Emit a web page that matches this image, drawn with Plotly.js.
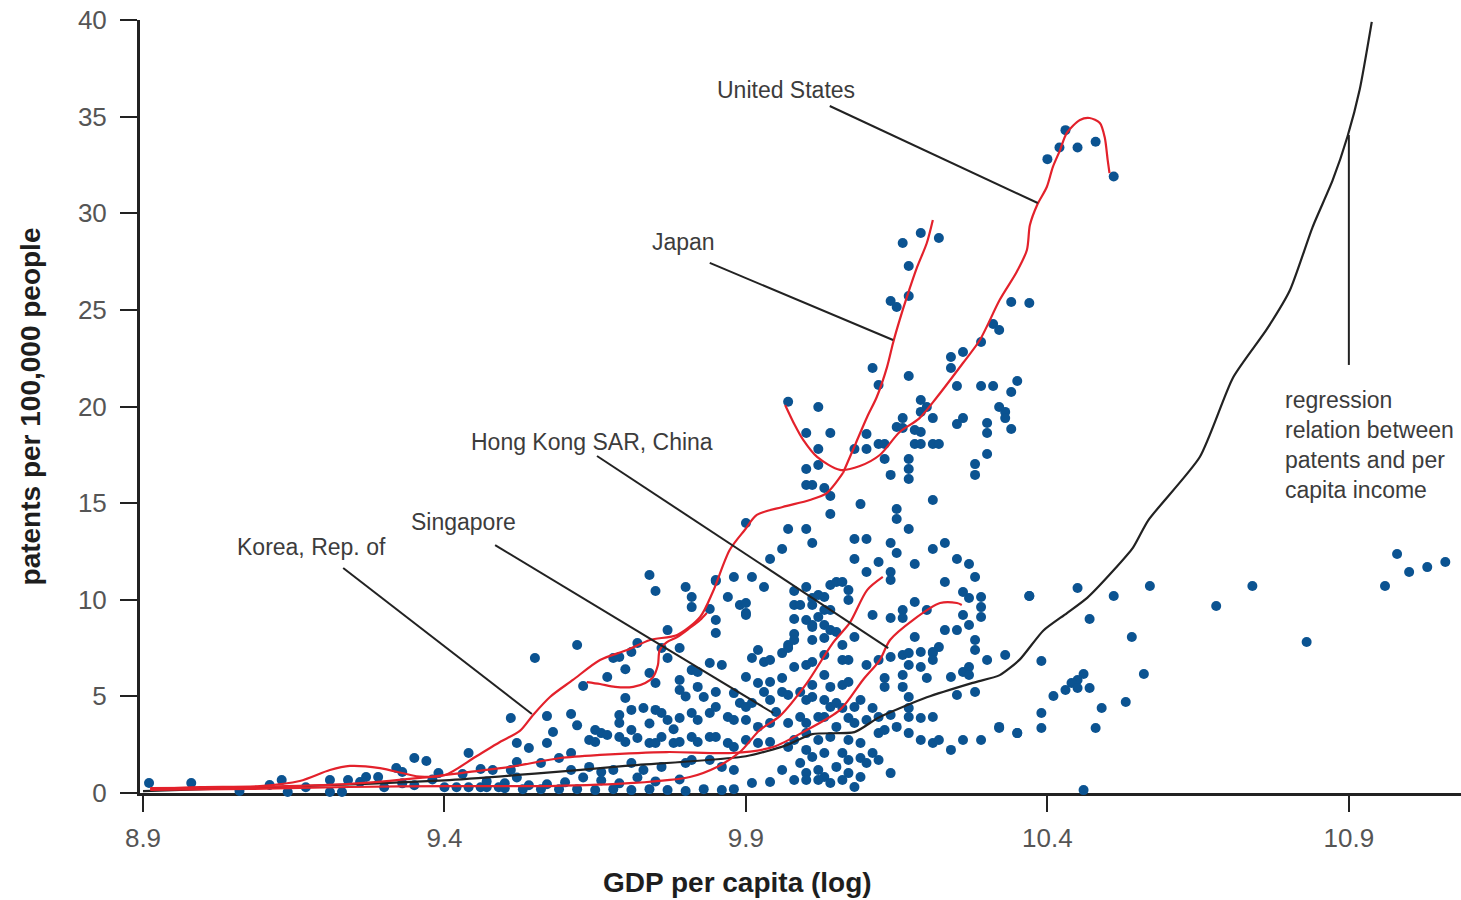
<!DOCTYPE html>
<html><head><meta charset="utf-8">
<script src="https://cdn.plot.ly/plotly-3.0.1.min.js"></script>
<style>html,body{margin:0;padding:0;background:#fff}#chart{width:1461px;height:900px}</style>
</head><body><div id="chart"></div>
<script>
// Scatter: economies, GDP per capita (log) vs patents per 100,000 people
const gdpLog = [
8.91,8.94,8.98,9.00,9.03,9.06,9.11,9.13,9.14,9.17,
9.21,9.24,9.26,9.27,9.29,9.32,9.21,9.23,9.35,9.37,
9.33,9.39,9.43,9.44,9.46,9.48,9.30,9.35,9.40,9.42,
9.44,9.46,9.47,9.49,9.38,9.33,9.47,9.50,9.52,9.54,
9.51,9.56,9.61,9.64,9.66,9.68,9.71,9.73,9.76,9.80,
9.81,9.84,9.86,9.88,9.51,9.57,9.61,9.58,9.57,9.52,
9.54,9.61,9.59,9.65,9.66,9.67,9.64,9.65,9.69,9.70,
9.72,9.74,9.75,9.76,9.78,9.79,9.81,9.82,9.84,9.85,
9.87,9.88,9.70,9.71,9.73,9.75,9.69,9.69,9.71,9.76,
9.77,9.79,9.81,9.82,9.84,9.85,9.87,9.88,9.82,9.83,
9.85,9.88,9.89,9.63,9.66,9.69,9.72,9.50,9.53,9.56,
9.59,9.62,9.65,9.68,9.71,9.74,9.77,9.80,9.83,9.86,
9.88,9.60,9.75,9.79,9.57,9.52,9.62,9.78,9.74,9.80,
9.74,9.75,9.80,9.81,9.81,9.85,9.88,9.87,9.89,9.84,
9.85,9.85,9.62,9.55,9.63,9.67,9.68,9.69,9.71,9.72,
9.77,9.76,9.77,9.79,9.74,9.75,9.79,9.79,9.81,9.82,
9.84,9.86,9.90,9.85,9.90,9.91,9.93,9.90,9.90,9.70,
9.97,10.02,10.19,10.20,10.16,10.15,10.16,10.18,10.19,10.21,
10.25,10.26,10.32,10.33,10.33,10.34,10.30,10.30,10.00,10.04,
10.10,10.08,10.10,10.12,10.13,10.18,10.19,10.21,10.22,10.13,
10.17,10.17,10.17,10.14,10.30,10.28,10.28,10.02,10.02,10.00,
10.00,10.01,10.03,10.04,10.04,10.09,10.21,10.15,10.15,10.17,
9.97,10.00,10.01,10.08,10.10,10.14,10.15,10.23,10.21,9.96,
9.94,10.08,10.12,10.18,10.25,10.27,10.10,10.14,10.14,10.23,
10.28,10.37,9.98,9.98,9.98,9.98,9.99,10.00,10.01,10.01,
10.03,10.04,10.05,10.06,10.07,10.07,10.00,10.01,10.01,10.03,
10.04,10.02,10.03,10.04,10.05,9.97,10.01,10.03,10.06,10.08,
10.11,10.16,10.16,10.18,10.18,10.20,10.22,10.23,10.25,10.26,
10.27,10.27,10.28,10.29,10.29,10.29,10.14,10.21,10.28,10.30,
10.33,9.98,10.02,10.26,9.92,9.91,9.93,9.94,9.96,9.97,
9.90,9.92,9.94,9.93,9.96,9.98,10.00,10.01,10.03,10.06,
10.07,10.10,10.12,10.14,10.16,10.17,10.19,10.21,10.17,10.19,
10.21,10.16,10.13,10.20,10.24,10.26,10.27,10.27,10.28,10.25,
10.17,10.17,10.16,10.13,10.01,10.03,10.04,10.06,10.07,9.96,
9.97,9.99,10.00,10.01,9.90,9.91,9.94,9.95,10.03,10.04,
10.05,10.06,10.08,10.09,10.11,10.12,10.14,10.17,10.19,10.21,
9.90,9.92,9.94,9.97,9.99,10.00,10.02,10.03,10.05,10.07,
10.08,10.10,10.12,10.13,10.15,10.17,10.19,10.21,10.22,10.24,
10.26,10.29,10.32,10.35,9.90,9.92,9.94,9.97,9.98,10.00,
10.02,10.04,10.07,10.09,10.00,10.01,10.03,10.06,10.07,10.09,
10.11,9.99,10.00,10.02,10.03,10.05,10.07,10.10,10.12,9.98,
10.00,10.02,10.04,10.06,10.08,10.09,10.14,9.91,9.94,9.96,
9.94,9.99,10.01,10.03,10.06,10.08,10.09,10.16,10.28,10.30,
10.16,10.19,10.22,10.17,10.14,10.15,10.17,10.11,10.12,10.17,
10.19,10.24,10.24,10.26,10.29,10.31,10.32,10.34,10.37,10.35,
10.34,10.25,10.29,10.31,10.43,10.42,10.40,10.45,10.48,10.51,
10.37,10.45,10.51,10.57,10.68,10.74,10.83,10.96,10.98,11.00,
11.03,11.06,10.47,10.54,10.39,10.56,10.46,10.45,10.44,10.43,
10.45,10.47,10.41,10.49,10.53,10.39,10.39,10.48,10.35,10.32,
10.46
];
const patents = [
0.52,-0.10,0.52,-0.30,-0.15,0.10,0.41,0.67,0.05,0.30,
0.67,0.67,0.57,0.83,0.83,1.29,0.05,0.05,1.81,1.66,
1.09,1.03,0.98,2.07,1.24,1.19,0.30,0.40,0.30,0.30,
0.30,0.30,0.30,0.30,0.70,0.50,0.60,0.50,0.80,0.40,
1.19,1.55,1.19,1.35,1.09,1.19,1.55,1.19,1.35,1.55,
1.71,1.71,1.35,1.19,3.88,3.98,4.09,3.16,2.59,2.59,
2.33,2.07,1.81,3.26,3.10,3.00,2.74,2.64,2.90,2.64,
2.85,2.59,2.59,2.90,2.59,2.64,2.90,2.64,2.90,2.90,
2.59,2.38,4.92,4.30,4.40,4.30,4.04,3.62,3.26,4.14,
3.78,3.88,4.14,3.78,4.14,4.45,3.93,3.78,5.49,4.97,
5.23,5.17,4.66,0.80,0.65,0.50,0.80,0.25,0.20,0.20,
0.20,0.20,0.15,0.20,0.15,0.20,0.15,0.10,0.20,0.15,
0.20,0.55,0.60,0.70,0.45,1.60,3.50,3.30,3.60,5.00,
11.28,10.45,10.66,10.14,9.62,10.97,11.18,10.14,9.73,9.52,
8.95,8.28,7.66,6.99,5.54,6.00,6.99,7.04,7.30,7.76,
8.43,7.50,6.99,7.50,6.21,5.69,5.85,5.33,6.36,6.26,
6.73,6.62,9.21,11.02,13.97,11.18,10.66,9.83,9.31,6.40,
20.25,19.97,19.72,19.97,19.40,18.94,18.89,18.78,18.68,19.40,
19.09,19.40,19.97,19.72,19.40,18.84,19.15,18.63,18.63,18.63,
18.58,17.80,17.80,18.06,18.06,18.06,18.06,18.06,18.06,17.28,
17.28,16.77,16.25,16.46,17.54,17.02,16.46,17.80,16.97,16.77,
15.94,15.94,15.78,15.37,14.44,14.95,15.16,14.70,14.18,13.66,
13.66,13.66,12.94,13.14,13.14,12.94,12.42,12.94,12.63,12.63,
12.11,12.11,11.95,11.85,12.11,11.85,11.44,11.44,11.02,10.92,
11.18,10.19,10.45,9.73,9.00,8.23,9.73,10.66,9.73,10.09,
10.14,10.76,10.92,10.92,10.50,9.99,8.95,8.69,8.59,9.47,
9.47,9.11,8.69,8.43,8.33,7.66,7.92,8.02,7.66,8.07,
9.21,9.47,9.06,9.88,8.07,9.47,7.55,8.43,8.43,9.21,
10.09,8.69,7.92,10.14,9.62,9.11,9.06,7.30,7.40,6.88,
7.14,7.92,10.25,10.40,7.40,6.99,6.78,6.88,7.24,7.50,
6.00,5.69,5.74,5.23,5.95,6.52,6.62,6.78,7.14,6.88,
6.88,6.62,6.88,7.04,7.14,7.24,7.30,7.24,6.62,6.52,
6.88,6.11,5.95,5.95,6.00,6.26,6.52,6.11,5.23,5.07,
4.97,4.40,5.49,5.49,5.59,6.11,5.49,5.59,5.74,5.23,
5.07,5.23,4.81,4.97,4.45,4.66,4.81,4.19,4.81,4.45,
4.66,4.40,4.45,4.81,4.40,3.93,4.04,3.93,3.88,3.93,
3.78,3.42,3.62,3.62,3.93,3.62,3.93,3.93,3.42,3.88,
3.62,3.78,3.10,3.26,3.42,3.10,2.74,2.59,2.74,2.23,
2.74,2.74,3.42,3.10,2.74,2.59,2.64,2.38,2.74,3.10,
2.74,2.90,2.74,2.59,2.23,1.86,2.07,2.07,1.71,1.81,
2.07,1.55,1.03,1.19,0.83,1.35,1.03,1.55,1.71,0.67,
0.67,0.67,0.52,0.67,0.31,0.83,1.03,0.52,0.57,1.19,
-0.05,-0.05,-0.05,-0.05,-0.05,-0.05,-0.05,-0.05,-0.05,-0.05,
28.46,28.98,28.72,27.27,25.46,25.15,25.72,21.99,21.11,21.58,
20.34,22.56,21.99,22.82,23.34,24.27,23.96,25.41,25.36,21.32,
20.75,21.06,21.06,21.06,34.30,33.40,32.80,33.40,33.70,31.90,
10.19,10.61,10.19,10.71,9.68,10.71,7.81,10.71,12.37,11.44,
11.69,11.95,9.00,8.07,6.83,6.16,6.16,5.85,5.69,5.33,
5.43,5.43,5.02,4.40,4.71,4.14,3.36,3.36,3.10,3.36,
0.15
];

// Regression relation between patents and per capita income
const regressionGdp = [8.90,9.00,9.16,9.40,9.55,9.70,9.90,9.965,10.01,10.08,10.12,10.20,10.276,10.321,10.354,10.393,10.432,10.466,10.509,10.542,10.567,10.653,10.708,10.764,10.802,10.840,10.873,10.898,10.918,10.938];
const regressionPatents = [0.10,0.20,0.35,0.65,1.00,1.40,1.90,2.45,3.05,3.15,3.90,4.95,5.70,6.10,6.90,8.40,9.30,10.10,11.50,12.70,14.10,17.40,21.50,24.00,26.00,29.30,31.70,34.00,36.40,39.90];

// Highlighted economies
const koreaGdp = [8.912,8.995,9.094,9.160,9.210,9.243,9.293,9.359,9.401,9.451,9.492,9.525,9.547,9.575,9.613,9.658,9.703,9.741,9.786,9.824,9.845,9.873,9.898,9.918,9.961,10.006,10.034,10.061];
const koreaPatents = [0.21,0.31,0.36,0.62,1.19,1.40,1.29,0.85,0.93,1.86,2.64,3.21,4.04,4.97,5.85,6.88,7.40,7.92,8.18,9.11,10.40,12.57,13.61,14.39,14.80,15.16,15.52,16.56];
const japanGdp = [10.061,10.081,10.101,10.117,10.134,10.144,10.155,10.167,10.184,10.200,10.210];
const japanPatents = [16.56,18.01,19.46,20.49,22.04,23.29,24.48,25.67,27.22,28.46,29.65];
const usGdp = [9.965,9.981,9.995,10.018,10.056,10.089,10.122,10.155,10.188,10.217,10.260,10.288,10.321,10.349,10.366,10.371,10.383,10.399,10.409,10.421,10.432,10.454,10.470,10.487,10.495,10.500,10.503];
const usPatents = [20.08,19.04,18.27,17.39,16.72,16.92,17.49,18.68,19.40,20.49,22.25,23.44,25.52,26.96,28.10,29.39,30.43,31.36,32.39,33.27,34.15,34.83,34.93,34.67,33.94,32.75,32.08];
const hongKongGdp = [8.912,9.077,9.243,9.359,9.442,9.509,9.592,9.658,9.769,9.878,9.945,10.001,10.056,10.094,10.122,10.139,10.177,10.222,10.250,10.258];
const hongKongPatents = [0.26,0.31,0.47,0.78,1.09,1.35,1.81,1.97,2.12,2.07,2.38,3.26,4.30,5.85,6.88,7.92,8.95,9.83,9.83,9.73];
const singaporeGdp = [8.912,9.077,9.243,9.409,9.575,9.713,9.807,9.852,9.890,9.923,9.956,10.001,10.044,10.072,10.101,10.127];
const singaporePatents = [0.16,0.21,0.31,0.36,0.36,0.52,0.83,1.35,2.12,3.26,3.98,5.69,7.76,8.80,10.50,11.18];
const otherEconomyGdp = [9.636,9.658,9.683,9.713,9.733,9.746,9.754,9.757,9.769,9.786,9.807,9.824,9.835];
const otherEconomyPatents = [5.74,5.64,5.49,5.49,5.69,6.00,6.62,7.40,7.81,8.07,8.54,8.95,9.31];

const xTickValues = [8.9, 9.4, 9.9, 10.4, 10.9];
const xTickLabels = ['8.9', '9.4', '9.9', '10.4', '10.9'];
const yTickValues = [0, 5, 10, 15, 20, 25, 30, 35, 40];

const RED = '#e3212b';
const redLine = (x, y, name) => ({x, y, name, type: 'scatter', mode: 'lines', cliponaxis: false,
  line: {color: RED, width: 2.2, shape: 'spline', smoothing: 0.8}, hoverinfo: 'name'});

const traces = [
  {x: gdpLog, y: patents, type: 'scatter', mode: 'markers', name: 'economies', cliponaxis: false,
   marker: {color: '#0b5391', size: 10, line: {width: 0}}},
  {x: regressionGdp, y: regressionPatents, type: 'scatter', mode: 'lines', name: 'regression', cliponaxis: false,
   line: {color: '#222', width: 2.2, shape: 'spline', smoothing: 0.6}},
  redLine(koreaGdp, koreaPatents, 'Korea, Rep. of'),
  redLine(japanGdp, japanPatents, 'Japan'),
  redLine(usGdp, usPatents, 'United States'),
  redLine(hongKongGdp, hongKongPatents, 'Hong Kong SAR, China'),
  redLine(singaporeGdp, singaporePatents, 'Singapore'),
  redLine(otherEconomyGdp, otherEconomyPatents, 'other')
];

const annFont = {family: 'Liberation Sans, Arial, sans-serif', size: 23, color: '#3c3c3c'};
const label = (text, x, y, extra) => Object.assign({text, x, y, xref: 'x', yref: 'y', showarrow: false,
  xanchor: 'center', yanchor: 'middle', font: annFont}, extra || {});
const leader = (x0, y0, x1, y1) => ({type: 'line', xref: 'x', yref: 'y', x0, y0, x1, y1,
  line: {color: '#222', width: 2}});

const titleFont = {family: 'Liberation Sans, Arial, sans-serif', size: 28, color: '#1e1e1e', weight: 700};
const tickFont = {family: 'Liberation Sans, Arial, sans-serif', size: 26, color: '#555'};

const layout = {
  width: 1461, height: 900,
  margin: {l: 140, r: 0, t: 20, b: 107, pad: 0},
  paper_bgcolor: '#fff', plot_bgcolor: '#fff',
  showlegend: false,
  xaxis: {
    range: [8.895, 11.086], tickvals: xTickValues, ticktext: xTickLabels,
    showgrid: false, zeroline: false, showline: true, linecolor: '#222', linewidth: 3,
    ticks: 'outside', ticklen: 16, tickwidth: 2, tickcolor: '#222', tickfont: tickFont,
    ticklabelstandoff: 4, layer: 'below traces'
  },
  yaxis: {
    range: [0, 40], tickvals: yTickValues,
    showgrid: false, zeroline: false, showline: true, linecolor: '#222', linewidth: 3,
    ticks: 'outside', ticklen: 17, tickwidth: 2, tickcolor: '#222', tickfont: tickFont,
    ticklabelstandoff: 8, layer: 'below traces',
    title: {text: 'patents per 100,000 people', font: titleFont, standoff: 30}
  },
  annotations: [
    {text: 'GDP per capita (log)', xref: 'paper', yref: 'paper', x: 0.452, y: -0.1164,
     xanchor: 'center', yanchor: 'middle', showarrow: false, font: titleFont},
    label('United States', 9.966, 36.38),
    label('Japan', 9.797, 28.51),
    label('Hong Kong SAR, China', 9.645, 18.16),
    label('Singapore', 9.431, 14.02),
    label('Korea, Rep. of', 9.179, 12.73),
    label('regression<br>relation between<br>patents and per<br>capita income', 10.79, 21.12,
      {xanchor: 'left', yanchor: 'top', align: 'left'})
  ],
  shapes: [
    leader(10.039, 35.55, 10.384, 30.53),
    leader(9.840, 27.43, 10.144, 23.44),
    leader(9.653, 17.44, 10.136, 7.50),
    leader(9.484, 12.83, 9.945, 4.14),
    leader(9.232, 11.64, 9.545, 4.09),
    leader(10.9, 34.05, 10.9, 22.15)
  ]
};

Plotly.newPlot('chart', traces, layout, {displayModeBar: false, staticPlot: true});
</script>
</body></html>
